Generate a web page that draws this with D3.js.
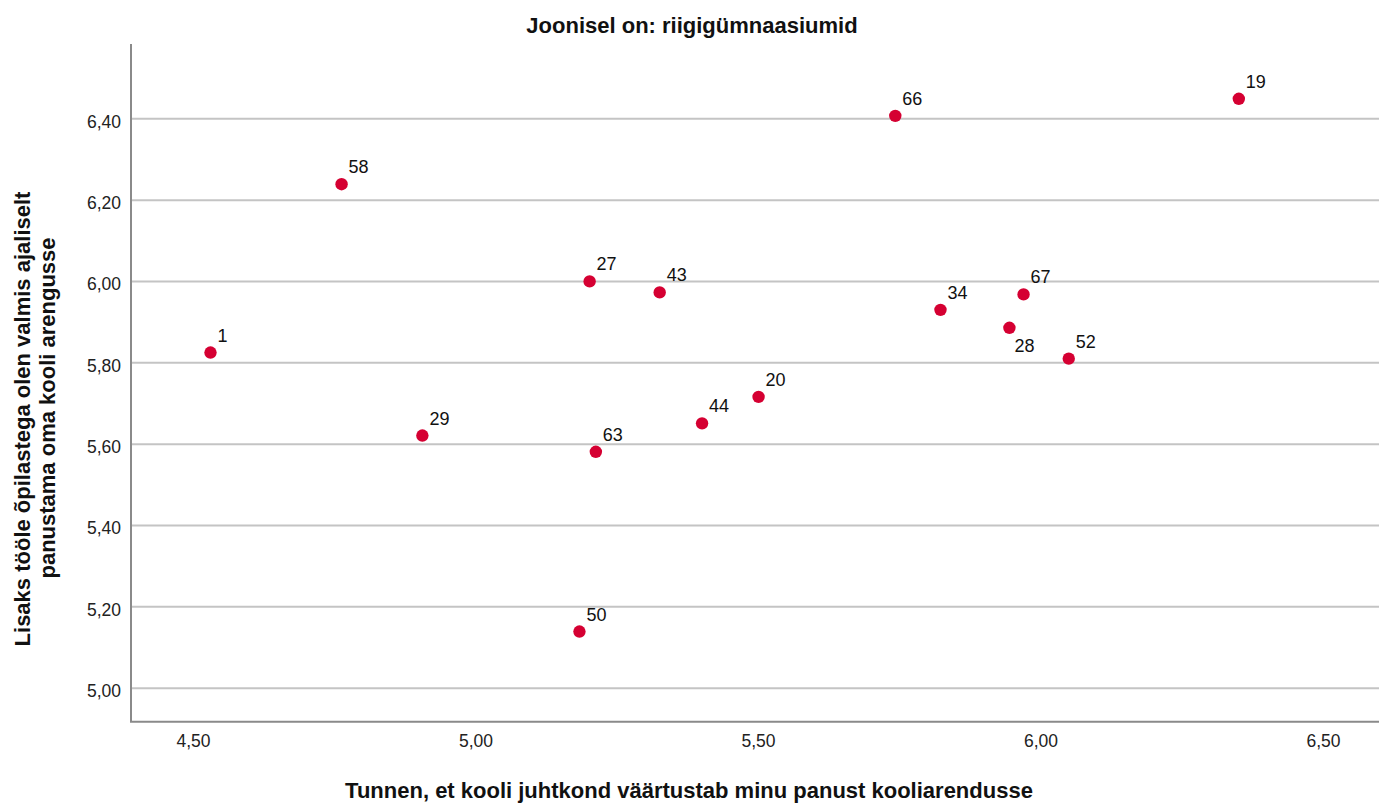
<!DOCTYPE html>
<html>
<head>
<meta charset="utf-8">
<script src="https://cdn.jsdelivr.net/npm/d3@7"></script>
<style>
  html, body { margin: 0; padding: 0; background: #fff; overflow: hidden; }
  svg { display: block; }
  text { font-family: "Liberation Sans", Arial, sans-serif; }
</style>
</head>
<body>
<div id="graph"><svg></svg></div>
<script>
// data
let schools = ["58", "1", "29", "27", "43", "20", "44", "63", "50", "66", "19", "34", "67", "28", "52"];
let xValues = [4.763, 4.531, 4.906, 5.202, 5.326, 5.501, 5.401, 5.213, 5.184, 5.743, 6.351, 5.823, 5.970, 5.945, 6.050];
let yValues = [6.238, 5.824, 5.620, 5.999, 5.972, 5.715, 5.650, 5.580, 5.138, 6.406, 6.448, 5.929, 5.967, 5.885, 5.809];
let xTicks = [4.5, 5.0, 5.5, 6.0, 6.5];
let yTicks = [5.0, 5.2, 5.4, 5.6, 5.8, 6.0, 6.2, 6.4];
let labelsBelow = ["28"];

let title = "Joonisel on: riigigümnaasiumid";
let xTitle = "Tunnen, et kooli juhtkond väärtustab minu panust kooliarendusse";
let yTitle = ["Lisaks tööle õpilastega olen valmis ajaliselt", "panustama oma kooli arengusse"];

// Margin Convention
let margins = { top: 44, right: 0, bottom: 83, left: 131 };
let outerWidth = 1379;
let outerHeight = 805;
let innerWidth = outerWidth - margins.left - margins.right;
let innerHeight = outerHeight - margins.top - margins.bottom - 0.3;

let root = d3.select("div#graph svg")
  .attr("width", outerWidth)
  .attr("height", outerHeight);

let svg = root.append("g")
  .attr("transform", "translate(" + margins.left + "," + margins.top + ")");

let data = schools.map((s, i) => ({ id: s, x: xValues[i], y: yValues[i] }));

let comma = (d) => d3.format(".2f")(d).replace(".", ",");

let xScale = d3.scaleLinear().domain([4.3903, 6.5991]).range([0, innerWidth]);
let yScale = d3.scaleLinear().domain([4.9164, 6.5827]).range([innerHeight, 0]);

// horizontal grid lines
let grid = svg.append("g")
  .call(d3.axisLeft(yScale).tickValues(yTicks).tickFormat("").tickSize(-innerWidth));
grid.select(".domain").remove();
grid.selectAll(".tick text").remove(); // empty labels
grid.selectAll(".tick line").attr("stroke", "#c4c4c4").attr("stroke-width", 2);

// y labels
let yAxis = svg.append("g")
  .call(d3.axisLeft(yScale).tickValues(yTicks).tickFormat(comma).tickSize(0).tickPadding(10));
yAxis.select(".domain").remove();
yAxis.selectAll(".tick text")
  .attr("dy", "0.5em")
  .style("font-size", "17.5px")
  .style("fill", "#222");

// x labels
let xAxis = svg.append("g")
  .attr("transform", "translate(0," + innerHeight + ")")
  .call(d3.axisBottom(xScale).tickValues(xTicks).tickFormat(comma).tickSize(0).tickPadding(13));
xAxis.select(".domain").remove();
xAxis.selectAll(".tick text")
  .style("font-size", "17.5px")
  .style("fill", "#222");

// axis lines
svg.append("line")
  .attr("x1", 0).attr("x2", 0)
  .attr("y1", 0).attr("y2", innerHeight)
  .attr("stroke", "#8a8a8a").attr("stroke-width", 2);
svg.append("line")
  .attr("x1", -1).attr("x2", innerWidth)
  .attr("y1", innerHeight).attr("y2", innerHeight)
  .attr("stroke", "#8a8a8a").attr("stroke-width", 2);

// points
svg.append("g")
  .selectAll("circle")
  .data(data)
  .join("circle")
  .attr("cx", (d) => xScale(d.x))
  .attr("cy", (d) => yScale(d.y))
  .attr("r", 6.2)
  .style("fill", "#d50032");

svg.append("g")
  .selectAll("text")
  .data(data)
  .join("text")
  .attr("x", (d) => xScale(d.x) + (labelsBelow.includes(d.id) ? 5 : 7))
  .attr("y", (d) => yScale(d.y) + (labelsBelow.includes(d.id) ? 24 : -11))
  .style("font-size", "18px")
  .style("fill", "#111")
  .text((d) => d.id);

// titles
root.append("text")
  .attr("x", 692)
  .attr("y", 33)
  .attr("text-anchor", "middle")
  .style("font-size", "22px")
  .style("font-weight", "bold")
  .style("fill", "#111")
  .text(title);

root.append("text")
  .attr("x", 689)
  .attr("y", 798)
  .attr("text-anchor", "middle")
  .style("font-size", "22px")
  .style("font-weight", "bold")
  .style("fill", "#111")
  .text(xTitle);

root.append("g")
  .selectAll("text")
  .data(yTitle)
  .join("text")
  .attr("transform", (d, i) => "translate(" + (30 + i * 25) + "," + (i == 0 ? 419 : 408) + ") rotate(-90)")
  .attr("text-anchor", "middle")
  .style("font-size", "22px")
  .style("font-weight", "bold")
  .style("fill", "#111")
  .text((d) => d);
</script>
</body>
</html>
